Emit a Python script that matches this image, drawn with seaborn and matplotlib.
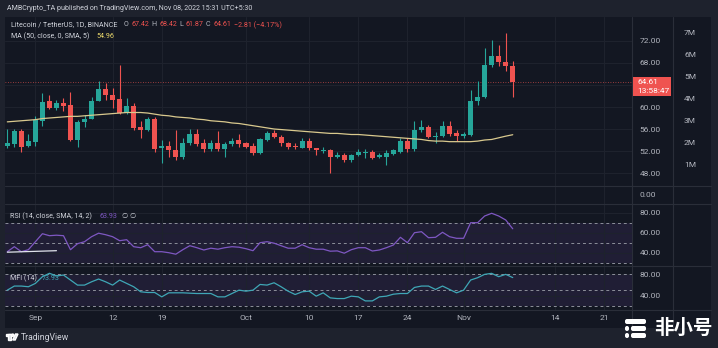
import numpy as np
import pandas as pd
import matplotlib
matplotlib.use("Agg")
import matplotlib.pyplot as plt
import matplotlib.dates as mdates
from matplotlib.patches import Rectangle, FancyBboxPatch, Polygon, Circle
from matplotlib.lines import Line2D
from matplotlib.transforms import Affine2D
import seaborn as sns

# ---------------- data: LTC/USDT daily ----------------
dates = pd.date_range("2022-08-28", "2022-11-08", freq="D")

opens = [53.0, 53.2, 55.6, 52.9, 53.6, 57.5, 61.0, 59.9, 60.8, 60.4,
         54.0, 57.2, 57.9, 61.1, 63.3, 62.2, 61.4, 59.0, 60.1, 56.4,
         55.8, 57.8, 52.5, 53.0, 52.2, 50.9, 53.5, 55.1, 53.4, 52.3,
         53.4, 52.4, 53.2, 54.0, 53.4, 52.9, 51.7, 54.0, 55.2, 54.6,
         53.4, 52.9, 52.6, 53.9, 52.5, 52.0, 52.1, 51.0, 51.3, 50.3,
         51.3, 51.6, 51.8, 51.0, 51.0, 51.5, 51.9, 53.9, 52.3, 55.8,
         56.4, 54.6, 54.7, 56.5, 55.2, 54.7, 54.9, 61.0, 61.9, 67.6,
         69.3, 68.2, 67.42]
highs = [56.0, 56.0, 56.0, 55.1, 58.4, 62.6, 62.1, 61.3, 61.7, 62.8,
         57.6, 58.5, 61.9, 64.7, 64.4, 63.4, 67.6, 61.6, 60.7, 57.5,
         58.2, 58.2, 54.0, 53.8, 55.8, 54.4, 56.0, 56.0, 54.2, 54.0,
         55.7, 53.6, 54.3, 55.1, 53.7, 53.4, 54.3, 55.7, 55.8, 54.9,
         53.7, 53.4, 54.3, 54.3, 52.6, 52.7, 52.3, 51.9, 51.6, 51.5,
         52.3, 52.3, 52.2, 51.7, 52.1, 52.4, 54.3, 54.3, 57.5, 57.6,
         56.8, 55.5, 57.5, 57.5, 55.9, 55.5, 63.0, 64.8, 70.7, 72.1,
         71.3, 73.5, 68.42]
lows = [52.5, 52.8, 51.9, 52.8, 53.0, 56.5, 59.6, 59.5, 59.3, 53.8,
        52.8, 56.4, 57.8, 61.0, 61.3, 59.8, 58.7, 58.7, 55.8, 54.4,
        55.6, 51.9, 49.8, 51.0, 50.4, 50.6, 53.1, 52.9, 51.9, 52.0,
        52.0, 51.0, 52.9, 52.8, 52.5, 51.3, 51.5, 53.8, 54.4, 53.0,
        52.3, 52.3, 52.5, 52.2, 51.3, 51.6, 48.05, 50.7, 50.0, 50.0,
        51.1, 50.7, 50.6, 50.7, 49.5, 51.3, 51.7, 51.9, 52.0, 55.5,
        54.4, 53.4, 54.5, 54.8, 53.9, 54.4, 54.7, 60.4, 61.7, 67.3,
        67.5, 66.5, 61.87]
closes = [53.4, 55.6, 52.8, 53.8, 57.6, 61.0, 59.9, 60.8, 60.2, 54.0,
          57.2, 57.9, 61.1, 63.3, 62.1, 61.3, 59.0, 60.2, 56.2, 55.8,
          57.8, 52.4, 53.0, 52.2, 50.9, 53.5, 55.1, 53.3, 52.3, 53.4,
          52.3, 53.3, 53.9, 53.2, 52.8, 51.7, 54.1, 55.3, 54.6, 53.4,
          52.7, 52.7, 53.9, 52.5, 52.1, 52.2, 51.0, 51.3, 50.3, 51.3,
          51.8, 51.8, 50.8, 51.3, 51.6, 52.1, 53.9, 52.3, 55.8, 56.4,
          54.6, 54.8, 56.5, 55.1, 54.7, 55.1, 61.0, 61.9, 67.6, 69.3,
          68.2, 67.42, 64.61]

ma50 = [57.3, 57.4, 57.5, 57.6, 57.7, 57.9, 58.0, 58.1, 58.2, 58.3,
        58.3, 58.4, 58.5, 58.6, 58.7, 58.8, 58.9, 59.0, 59.0, 59.0,
        58.9, 58.7, 58.5, 58.4, 58.2, 58.1, 58.0, 57.8, 57.7, 57.5,
        57.4, 57.3, 57.1, 57.0, 56.8, 56.6, 56.4, 56.2, 56.0, 55.9,
        55.8, 55.7, 55.6, 55.5, 55.4, 55.3, 55.2, 55.2, 55.1, 55.0,
        55.0, 54.9, 54.8, 54.7, 54.6, 54.5, 54.4, 54.3, 54.2, 54.1,
        53.9, 53.8, 53.8, 53.7, 53.7, 53.7, 53.7, 53.8, 54.0, 54.1,
        54.4, 54.7, 54.96]

rsi = [41, 46, 41, 43, 51, 59, 57, 57.5, 57, 43,
       49, 51, 56, 59.5, 58, 56, 52, 53, 46, 45,
       48, 41, 41, 40, 38.5, 43, 47, 45, 42.7, 44.5,
       43.5, 45, 46, 45.5, 44, 42, 50, 51, 49.5, 47,
       44.5, 44.5, 48, 45, 43.5, 43.5, 41.5, 41.8, 39.5, 43,
       45, 45, 41.7, 42.7, 45, 47.7, 55.4, 50, 60, 61,
       55, 55.4, 60.4, 56, 54.4, 54.4, 70, 70, 76.7, 79.4,
       76.7, 72.7, 63.93]
rsi_ma_idx = [0, 7]
rsi_ma = [40.5, 42.0]

mfi = [50.3, 58, 58, 56.7, 63, 75.6, 82, 77, 78.7, 69.3,
       59.8, 59.8, 66, 71.2, 66, 59.8, 69.3, 63, 56.7, 47.2,
       45.9, 45.9, 37.7, 45.3, 45.3, 45.3, 44.6, 44, 44, 44,
       37.7, 37.7, 44, 50.3, 48.4, 50.3, 61, 59.8, 64.2, 56.7,
       48.4, 42.1, 47.2, 48.4, 39, 45.3, 35.8, 34.5, 34.5, 39,
       37.7, 30.1, 30.1, 37.7, 39, 42.7, 44, 44, 55.4, 58,
       58, 51.6, 58, 51.6, 45.3, 50.3, 69.3, 73.7, 80, 81.9,
       75.6, 80, 73.93]

price_ticks = [48, 52, 56, 60, 64, 68, 72]
vol_ticks = [1, 2, 3, 4, 5, 6, 7]
rsi_ticks = [40, 60, 80]
mfi_ticks = [40, 80]
time_ticks = ["2022-09-01", "2022-09-12", "2022-09-19", "2022-10-01", "2022-10-10",
              "2022-10-17", "2022-10-24", "2022-11-01", "2022-11-14", "2022-11-21"]
time_labels = ["Sep", "12", "19", "Oct", "10", "17", "24", "Nov", "14", "21"]
last_price = 64.61

# ---------------- style ----------------
sns.set_theme(style="dark")
plt.rcParams["font.family"] = ["Roboto", "DejaVu Sans"]

OUTER = "#1e222d"
BG = "#131722"
GRID = "#1e222d"
SEP = "#2a2e39"
TXT = "#b2b5be"
LEG = "#d1d4dc"
UP = "#26a69a"
DOWN = "#ef5350"
MA_C = "#d9c98e"
RSI_C = "#7e57c2"
MFI_C = "#3fa7b6"
LEG_SIZE = 5.1

W, H = 718, 348
fig = plt.figure(figsize=(W / 100, H / 100), dpi=100, facecolor=OUTER)
pix = Affine2D().scale(1 / W, -1 / H).translate(0, 1) + fig.transFigure
renderer = fig.canvas.get_renderer()


def rect(x0, y0, x1, y1):
    return [x0 / W, 1 - y1 / H, (x1 - x0) / W, (y1 - y0) / H]


def ftext(x, y, s, color=TXT, size=LEG_SIZE, **kw):
    kw.setdefault("ha", "left")
    kw.setdefault("va", "center")
    return fig.text(x / W, 1 - y / H, s, color=color, fontsize=size, **kw)


def legend_row(y, items, size=LEG_SIZE, gap=2.5):
    """Place coloured text pieces left to right, never letting them overlap."""
    end = 0
    for x, s, col in items:
        x = max(x, end + gap)
        t = ftext(x, y, s, color=col, size=size)
        bb = t.get_window_extent(renderer)
        end = bb.x1


fig.add_artist(Rectangle((5, 17), 706, 311, transform=pix, facecolor=BG,
                         edgecolor="none", zorder=-1))

xs = mdates.date2num(dates.to_pydatetime())
x_left, x_right = xs[0] - 0.33, xs[0] + 88.99
tick_x = mdates.date2num(pd.to_datetime(time_ticks).to_pydatetime())

PLOT_L, PLOT_R = 5, 632
ax_p = fig.add_axes(rect(PLOT_L, 17, PLOT_R, 186))
ax_z = fig.add_axes(rect(PLOT_L, 186, PLOT_R, 204))
ax_r = fig.add_axes(rect(PLOT_L, 204, PLOT_R, 266))
ax_m = fig.add_axes(rect(PLOT_L, 266, PLOT_R, 310))

for ax in (ax_p, ax_z, ax_r, ax_m):
    ax.set_facecolor(BG)
    for s in ax.spines.values():
        s.set_visible(False)
    ax.set_xlim(x_left, x_right)
    ax.set_xticks(tick_x)
    ax.set_xticklabels([])
    ax.tick_params(axis="both", length=0)
    ax.yaxis.tick_right()
    ax.tick_params(axis="y", pad=5.6, labelsize=6, labelcolor=TXT)
    ax.grid(True, color=GRID, lw=0.8)
    ax.set_axisbelow(True)

# ---------------- price pane ----------------
ax_p.set_ylim(45.64, 76.36)
ax_p.set_yticks(price_ticks)
# the 64 level label sits under the last-price tag
ax_p.set_yticklabels(["" if abs(v - last_price) < 2 else f"{v:.2f}" for v in price_ticks])

o = np.array(opens); c = np.array(closes)
hi = np.array(highs); lo = np.array(lows)
colors = np.where(c >= o, UP, DOWN)
body_bottom = np.minimum(o, c)
body_h = np.maximum(np.abs(c - o), 0.18)
ax_p.vlines(xs, lo, hi, colors=colors, lw=0.8, zorder=2)
ax_p.bar(xs, body_h, bottom=body_bottom, width=0.72, color=colors, linewidth=0, zorder=3)

sns.lineplot(x=xs, y=ma50, ax=ax_p, color=MA_C, lw=0.9, zorder=4)
ax_p.axhline(last_price, color=DOWN, lw=0.6, ls=(0, (1, 2)), alpha=0.8, zorder=1)
ax_p.set_xlabel(""); ax_p.set_ylabel("")

# volume scale on the far right
ax_v = fig.add_axes(rect(PLOT_L, 17, PLOT_R, 186), frameon=False)
ax_v.patch.set_visible(False)
ax_v.set_xlim(x_left, x_right)
ax_v.set_xticks([])
ax_v.set_ylim(0, 7.73)
ax_v.yaxis.tick_right()
ax_v.set_yticks(vol_ticks)
ax_v.set_yticklabels([f"{v}M" for v in vol_ticks])
ax_v.tick_params(axis="y", length=0, pad=37.5, labelsize=6, labelcolor=TXT)
ax_v.grid(False)

# ---------------- empty value pane ----------------
ax_z.set_ylim(-1, 1)
ax_z.set_yticks([0])
ax_z.set_yticklabels(["0.00"])
ax_z.grid(axis="y", visible=False)

# ---------------- RSI pane ----------------
ax_r.set_ylim(26.7, 88.7)
ax_r.set_yticks(rsi_ticks)
ax_r.set_yticklabels([f"{v:.2f}" for v in rsi_ticks])
ax_r.axhspan(30, 70, color=RSI_C, alpha=0.12, lw=0, zorder=0.5)
for lvl in (30, 50, 70):
    ax_r.axhline(lvl, color="#8c8f9a", lw=0.7, ls=(0, (3, 3)), zorder=1)
sns.lineplot(x=xs, y=rsi, ax=ax_r, color=RSI_C, lw=0.9, zorder=3)
sns.lineplot(x=xs[rsi_ma_idx], y=rsi_ma, ax=ax_r, color="#e0e3eb", lw=0.9, zorder=3)
ax_r.set_xlabel(""); ax_r.set_ylabel("")

# ---------------- MFI pane ----------------
ax_m.set_ylim(13.0, 95.7)
ax_m.set_yticks(mfi_ticks)
ax_m.set_yticklabels([f"{v:.2f}" for v in mfi_ticks])
ax_m.axhspan(20, 80, color=RSI_C, alpha=0.12, lw=0, zorder=0.5)
for lvl in (20, 50, 80):
    ax_m.axhline(lvl, color="#8c8f9a", lw=0.7, ls=(0, (3, 3)), zorder=1)
sns.lineplot(x=xs, y=mfi, ax=ax_m, color=MFI_C, lw=0.9, zorder=3)
ax_m.set_xlabel(""); ax_m.set_ylabel("")
ax_m.set_xticklabels(time_labels)
ax_m.tick_params(axis="x", pad=3.5, labelsize=6, labelcolor=TXT)

# ---------------- pane separators ----------------
for y in (186, 204, 266, 310):
    fig.add_artist(Line2D([5 / W, 711 / W], [1 - y / H] * 2, color=SEP, lw=0.8))
for x in (632, 673):
    fig.add_artist(Line2D([x / W] * 2, [1 - 17 / H, 1 - 328 / H], color=SEP, lw=0.8))

# ---------------- last price tag ----------------
fig.add_artist(Rectangle((633, 77), 38, 19, transform=pix, facecolor=DOWN,
                         edgecolor="none", zorder=5))
ftext(637, 82, f"{last_price:.2f}", color="white", size=6, zorder=6)
ftext(637, 91, "13:58:47", color="white", size=6, zorder=6)

# ---------------- legends / headers ----------------
ftext(7, 9, "AMBCrypto_TA published on TradingView.com, Nov 08, 2022 15:31 UTC+5:30",
      color=LEG)
chg = closes[-1] - closes[-2]
chg_pct = chg / closes[-2] * 100
legend_row(25, [(11, "Litecoin / TetherUS, 1D, BINANCE", LEG),
                (124, "O", TXT), (128, f"{opens[-1]:.2f}", DOWN),
                (150, "H", TXT), (154, f"{highs[-1]:.2f}", DOWN),
                (177, "L", TXT), (180, f"{lows[-1]:.2f}", DOWN),
                (203, "C", TXT), (208, f"{closes[-1]:.2f}", DOWN),
                (229, f"\u2212{abs(chg):.2f} (\u2212{abs(chg_pct):.2f}%)", DOWN)])
legend_row(36, [(11, "MA (50, close, 0, SMA, 5)", LEG), (96, f"{ma50[-1]:.2f}", "#e9d76b")])
legend_row(216, [(10, "RSI (14, close, SMA, 14, 2)", LEG), (100, f"{rsi[-1]:.2f}", RSI_C),
                 (122, "\u2205 \u2205", LEG)])
legend_row(278, [(10, "MFI (14)", LEG), (42, f"{mfi[-1]:.2f}", MFI_C)])

# ---------------- footer brand ----------------
fig.add_artist(Rectangle((6, 334), 5.5, 2, transform=pix, facecolor="#e0e3eb", zorder=5))
fig.add_artist(Rectangle((8.3, 334), 2.2, 6, transform=pix, facecolor="#e0e3eb", zorder=5))
fig.add_artist(Circle((12.8, 335.2), 1.1, transform=pix, facecolor="#e0e3eb", zorder=5))
fig.add_artist(Polygon([(15.5, 334), (18, 334), (15.2, 340), (12.7, 340)], closed=True,
                       transform=pix, facecolor="#e0e3eb", zorder=5))
ftext(20.5, 337, "TradingView", color=LEG, size=6.2)

# ---------------- watermark ----------------
for (x0, y0, w, h) in [(625, 319, 21, 5), (625, 326, 4, 5), (631, 326, 15, 5),
                       (625, 333, 4, 5), (631, 333, 15, 5)]:
    fig.add_artist(FancyBboxPatch((x0, y0), w, h, boxstyle="round,pad=0,rounding_size=2",
                                  transform=pix, facecolor="white", edgecolor="none",
                                  zorder=7))
fig.text(683 / W, 1 - 328 / H, "非小号", color="white", fontsize=14, fontweight="bold",
         ha="center", va="center", family=["Noto Sans CJK SC", "DejaVu Sans"], zorder=8)

fig.savefig("out.png", dpi=100, facecolor=OUTER)
